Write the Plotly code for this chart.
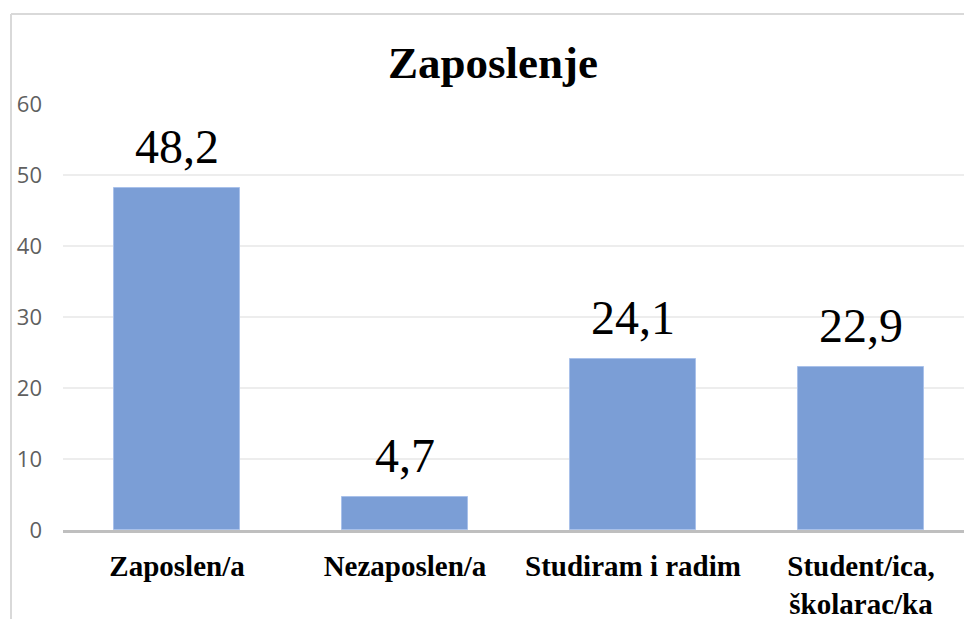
import plotly.graph_objects as go

# podaci
kategorije = ["Zaposlen/a", "Nezaposlen/a", "Studiram i radim", "Student/ica,<br>školarac/ka"]
postotci = [48.2, 4.7, 24.1, 22.9]
oznake = [f"{v:.1f}".replace(".", ",") for v in postotci]
y_ticks = [0, 10, 20, 30, 40, 50, 60]

W, H = 964, 619
L, R, T, B = 63, 0, 104, 89
pw = W - L - R
ph = H - T - B

def px_x(p):
    return (p - L) / pw

def px_y(p):
    return 1 - (p - T) / ph

fig = go.Figure()
fig.add_trace(go.Bar(
    x=list(range(len(kategorije))), y=postotci,
    width=0.553,
    marker=dict(color="#7B9ED6", line=dict(color="#A9C1EA", width=1)),
))

# oznake vrijednosti iznad stupaca
for i, (v, t) in enumerate(zip(postotci, oznake)):
    fig.add_annotation(x=i, y=v, text=t, showarrow=False,
                       xanchor="center", yanchor="bottom", yshift=13,
                       font=dict(family="Liberation Serif", size=48, color="#000000"))

# okvir grafikona (desni i donji rub su odrezani)
fig.add_shape(type="line", xref="paper", yref="paper",
              x0=px_x(11), x1=px_x(11), y0=px_y(14), y1=px_y(640),
              line=dict(color="#D9D9D9", width=2))
fig.add_shape(type="line", xref="paper", yref="paper",
              x0=px_x(11), x1=px_x(990), y0=px_y(14), y1=px_y(14),
              line=dict(color="#D9D9D9", width=2))

fig.update_layout(
    width=W, height=H,
    margin=dict(l=L, r=R, t=T, b=B),
    paper_bgcolor="white", plot_bgcolor="white",
    showlegend=False,
    title=dict(text="<b>Zaposlenje</b>", x=(493 - L) / pw, xref="paper", xanchor="center",
               y=1 - 62 / H, yanchor="middle",
               font=dict(family="Liberation Serif", size=45, color="#000000")),
    xaxis=dict(range=[-0.5, -0.5 + pw / 228], tickvals=list(range(len(kategorije))),
               ticktext=[f"<b>{k}</b>" for k in kategorije],
               tickfont=dict(family="Liberation Serif", size=29, color="#000000"),
               showgrid=False, showline=True, linecolor="#BFBFBF", linewidth=3,
               ticks="", zeroline=False, fixedrange=True, ticklabelstandoff=8),
    yaxis=dict(range=[0, 60], tickvals=y_ticks,
               tickfont=dict(family="Open Sans", size=22, color="#5F5F5F"),
               showgrid=True, gridcolor="#EDEDED", gridwidth=2,
               zeroline=False, showline=False, ticks="", ticklabelstandoff=20,
               fixedrange=True),
    bargap=0,
)

fig.write_html("out.html", config={"displayModeBar": False},
               post_script="document.body.style.margin='0';")
